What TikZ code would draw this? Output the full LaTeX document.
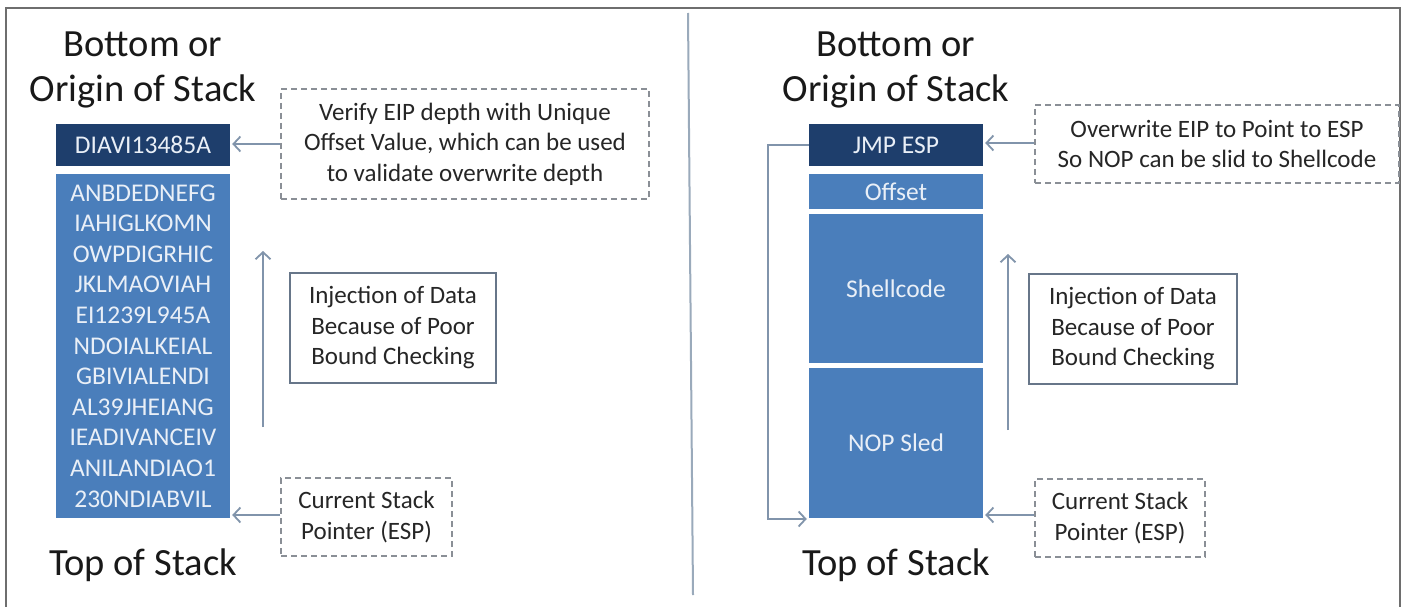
\documentclass[tikz,border=0pt]{standalone}
\usepackage{fontspec}
\setmainfont{Carlito}
\usetikzlibrary{arrows.meta}
\definecolor{navy}{HTML}{1E3E6C}
\definecolor{stackblue}{HTML}{4A7EBB}
\definecolor{arrowc}{HTML}{8194AB}
\definecolor{dashc}{HTML}{8A8F96}
\definecolor{framec}{HTML}{6E6E6E}
\definecolor{divc}{HTML}{9AAABB}
\definecolor{boxtext}{HTML}{E9EFF7}
\tikzset{
  cell/.style={fill=stackblue, draw=none, inner sep=0pt, text=boxtext, align=center, font=\fontsize{25.5}{30.6}\selectfont},
  topcell/.style={cell, fill=navy},
  note/.style={draw=dashc, dashed, line width=1.3pt, dash pattern=on 6pt off 4pt, inner sep=0pt, align=center, font=\fontsize{25}{30.5}\selectfont, text=black!85},
  plainbox/.style={draw=arrowc!80!black, line width=1.3pt, inner sep=0pt, align=center, font=\fontsize{25}{30.5}\selectfont, text=black!85},
  title/.style={align=center, font=\fontsize{38.5}{45}\selectfont, text=black!90},
  arr/.style={draw=arrowc, line width=1.8pt, -{Straight Barb[length=7pt,width=15pt,line width=1.8pt]}},
}
\begin{document}
\begin{tikzpicture}[x=1pt,y=-1pt]
\useasboundingbox (0,0) rectangle (1405,607);
\fill[white] (0,0) rectangle (1405,607);
% frame
\draw[framec, line width=1.8pt] (6,607) -- (6,8) -- (1400,8) -- (1400,607);
% divider
\draw[divc, line width=2pt] (688,13) -- (693,595);

% ---------- left ----------
\node[title] (ltitle) at (143,70) {Bottom or\\Origin of Stack};
\node[title] (lbot) at (143,565) {Top of Stack};
\node[topcell, minimum width=174pt, minimum height=42pt] (l0) at (143,145) {DIAVI13485A};
\node[cell, minimum width=174pt, minimum height=344pt] (l1) at (143,346) {ANBDEDNEFG\\IAHIGLKOMN\\OWPDIGRHIC\\JKLMAOVIAH\\EI1239L945A\\NDOIALKEIAL\\GBIVIALENDI\\AL39JHEIANG\\IEADIVANCEIV\\ANILANDIAO1\\230NDIABVIL};
\node[note, minimum width=368pt, minimum height=110pt] (ld) at (465,144) {Verify EIP depth with Unique\\Offset Value, which can be used\\to validate overwrite depth};
\node[plainbox, minimum width=206pt, minimum height=110pt] (li) at (393,328) {Injection of Data\\Because of Poor\\Bound Checking};
\node[note, minimum width=171pt, minimum height=78pt] (le) at (366.5,517) {Current Stack\\Pointer (ESP)};
\coordinate (lua) at (263,427);
\coordinate (lub) at (263,251);
\draw[arr] (ld.west) -- ([xshift=2pt]ld.west -| l0.east);
\draw[arr] ([yshift=2pt]le.west) -- ([xshift=2pt,yshift=2pt]le.west -| l1.east);
\draw[arr] (lua) -- (lub);

% ---------- right ----------
\node[title] (rtitle) at (896,70) {Bottom or\\Origin of Stack};
\node[title] (rbot) at (896,565) {Top of Stack};
\node[topcell, minimum width=174pt, minimum height=42pt] (r0) at (896,145) {JMP ESP};
\node[cell, minimum width=174pt, minimum height=35pt] (r1) at (896,191.5) {Offset};
\node[cell, minimum width=174pt, minimum height=149pt] (r2) at (896,288.5) {Shellcode};
\node[cell, minimum width=174pt, minimum height=150pt] (r3) at (896,443) {NOP Sled};
\node[note, minimum width=364pt, minimum height=78pt] (rd) at (1217,144) {Overwrite EIP to Point to ESP\\So NOP can be slid to Shellcode};
\node[plainbox, minimum width=208pt, minimum height=110pt] (ri) at (1133,329) {Injection of Data\\Because of Poor\\Bound Checking};
\node[note, minimum width=170pt, minimum height=78pt] (re) at (1120,518) {Current Stack\\Pointer (ESP)};
\coordinate (rua) at (1008,430);
\coordinate (rub) at (1008,254);
\coordinate (rl1) at (768,145);
\coordinate (rl2) at (768,519);
\draw[arr] ([yshift=1pt]rd.west) -- ([xshift=2pt,yshift=1pt]rd.west -| r0.east);
\draw[arr] ([yshift=3pt]re.west) -- ([xshift=2pt,yshift=3pt]re.west -| r3.east);
\draw[arr] (rua) -- (rub);
\draw[arr] (r0.west) -- (rl1) -- (rl2) -- ([xshift=-2pt]rl2 -| r3.west);
\end{tikzpicture}
\end{document}
